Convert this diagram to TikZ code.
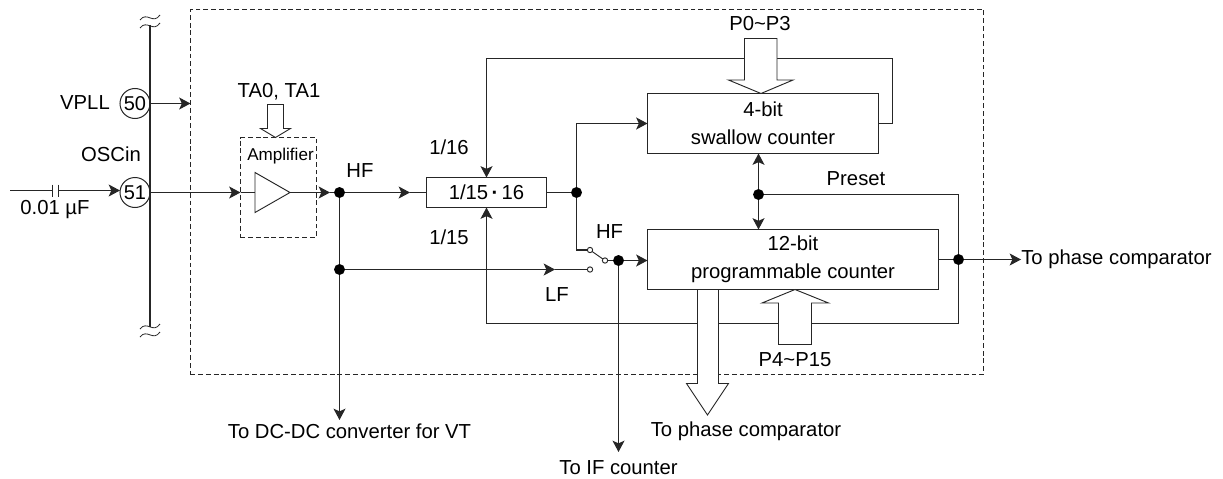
\documentclass[tikz,border=0pt]{standalone}
\usepackage{fontspec}
\setmainfont{Liberation Sans}
\usepackage{xcolor}
\usetikzlibrary{arrows.meta,calc}
\definecolor{wire}{HTML}{262626}
\tikzset{
  wirel/.style={draw=wire, line width=0.85pt},
  frame/.style={draw=wire, line width=0.7pt, dash pattern=on 3.6pt off 2.2pt},
  blockbox/.style={rectangle, draw=wire, line width=0.85pt, inner sep=0pt, outer sep=0pt, align=center},
  pin/.style={circle, draw=wire, line width=0.75pt, fill=white, minimum size=22.5pt, inner sep=0pt, outer sep=0pt, font=\fontsize{15}{17}\selectfont},
  junc/.style={circle, fill=black, minimum size=8.2pt, inner sep=0pt, outer sep=0pt},
  contact/.style={circle, draw=wire, line width=0.7pt, fill=white, minimum size=4pt, inner sep=0pt, outer sep=0pt},
  lab/.style={inner sep=0pt, font=\fontsize{15.2}{17}\selectfont},
  fat/.style={draw=wire, line width=0.7pt, fill=white, line join=miter},
  brk/.style={draw=wire, line width=0.6pt},
  >={Stealth[length=8.5pt,width=9pt,inset=2pt]},
}

\begin{document}
\begin{tikzpicture}[x=0.75pt,y=-0.75pt]
\useasboundingbox (0,0) rectangle (1223,478);
% blocks
\node[frame, draw, minimum width=594.75pt, minimum height=273.75pt, inner sep=0pt, outer sep=0pt] (chip) at (587,192) {};
\node[frame, draw, minimum width=57pt, minimum height=75pt, inner sep=0pt, outer sep=0pt] (ampbox) at (278.5,187.5) {};
\node[blockbox, minimum width=90pt, minimum height=22.5pt, font=\fontsize{15.2}{17}\selectfont] (div) at (486.5,192.5) {1/15\,{\bfseries ·}\,16};
\node[blockbox, minimum width=173.25pt, minimum height=45pt, font=\fontsize{15.2}{21}\selectfont] (swallow) at (763,123.5) {4-bit\\swallow counter};
\node[blockbox, minimum width=218.25pt, minimum height=45pt, font=\fontsize{15.2}{21}\selectfont] (prog) at (793,259.5) {12-bit\\programmable counter};
\node[pin] (pin50) at (135,103.5) {50};
\node[pin] (pin51) at (135,192.5) {51};
% junctions
\node[junc] (jamp) at (339.5,192.5) {};
\node[junc] (jlf) at (339.5,269.5) {};
\node[junc] (jdiv) at (576.5,192.5) {};
\node[junc] (jsw) at (618.5,260.5) {};
\node[junc] (jpre) at (758.5,194.5) {};
\node[junc] (jout) at (958.5,259.5) {};
\node[contact] (swhf) at (590,250) {};
\node[contact] (swlf) at (590,269.5) {};
\node[contact] (swc) at (605,260.5) {};
% free ends
\coordinate (bustop) at (150,25);
\coordinate (busbot) at (150,327);
\coordinate (capl) at (52.5,190.5);
\coordinate (capr) at (58.5,190.5);
\coordinate (inl) at (10,190.5);
\coordinate (ampi) at (255,192.5);
\coordinate (ampo) at (290,192.5);
\coordinate (tipa) at (330,192.5);
\coordinate (tipb) at (410,192.5);
\coordinate (tipc) at (555,269.5);
\coordinate (fbr) at (892.5,58.5);
\coordinate (fbl) at (486.5,58.5);
\coordinate (prer) at (958.5,323.5);
\coordinate (prel) at (486.5,323.5);
\coordinate (dcend) at (339.5,420);
\coordinate (ifend) at (618.5,452);
\coordinate (cmpend) at (1021,259.5);
% bus and input
\draw[draw=wire, line width=1.7pt] (bustop) -- (busbot);
\draw[brk] (140,20) .. controls (147,11) and (153,25) .. (160,15);
\draw[brk] (140,28) .. controls (147,19) and (153,33) .. (160,23);
\draw[brk] (140,329) .. controls (147,320) and (153,334) .. (160,324);
\draw[brk] (140,337) .. controls (147,328) and (153,342) .. (160,332);
\draw[wirel] (inl) -- (capl);
\draw[wirel, ->] (capr) -- (pin51.west |- capr);
\draw[wirel, line width=1.1pt] ($(capl)+(0,-6)$) -- ($(capl)+(0,6)$);
\draw[wirel, line width=1.1pt] ($(capr)+(0,-6)$) -- ($(capr)+(0,6)$);
\draw[wirel, ->] (pin50.east) -- (pin50 -| chip.west);
\draw[wirel, ->] (pin51.east) -- (pin51 -| ampbox.west);
\draw[wirel] (pin51 -| ampbox.west) -- (ampi);
% amplifier
\draw[wirel, line width=0.7pt, fill=white] (ampi) ++(0,-20) -- (ampo) -- (255,212.5) -- cycle;
\draw[wirel, ->] (ampo) -- (tipa);
\draw[wirel] (tipa) -- (jamp);
\draw[wirel, ->] (jamp) -- (tipb);
\draw[wirel] (tipb) -- (div.west);
\draw[wirel] (div.east) -- (jdiv);
\draw[wirel, ->] (jdiv) |- (swallow.west);
% feedback of the counters
\draw[wirel, ->] (swallow.east) -- (swallow.east -| fbr) -- (fbr) -- (fbl) -- (div.north);
\draw[wirel, ->] (jpre) -- (jpre |- swallow.south);
\draw[wirel, ->] (jpre) -- (jpre |- prog.north);
\draw[wirel] (jpre) -| (jout);
\draw[wirel] (jout) -- (prer) -- (prel);
\draw[wirel, ->] (prel) -- (div.south);
\draw[wirel] (prog.east) -- (jout);
\draw[wirel, ->] (jout) -- (cmpend);
% HF/LF switch
\draw[wirel] (jdiv) |- (swhf.west);
\draw[wirel, line width=0.7pt] (swhf) -- (swc);
\draw[wirel] (swc) -- (jsw);
\draw[wirel, ->] (jsw) -- (jsw -| prog.west);
\draw[wirel, ->] (jlf) -- (tipc);
\draw[wirel] (tipc) -- (swlf.west);
\draw[wirel] (jamp) -- (jlf);
\draw[wirel, ->] (jlf) -- (dcend);
\draw[wirel, ->] (jsw) -- (ifend);
% wide arrows
\draw[fat] (267.5,104.5) -- (283.5,104.5) -- (283.5,128.5) -- (290.5,128.5) -- (275.5,137.5) -- (260.5,128.5) -- (267.5,128.5) -- cycle;
\draw[fat] (744.5,38.5) -- (777,38.5) -- (777,80) -- (793,80) -- (761,93.5) -- (728.5,80) -- (744.5,80) -- cycle;
\draw[fat] (778.5,344.5) -- (811.5,344.5) -- (811.5,303) -- (828.5,303) -- (795,289.5) -- (762,303) -- (778.5,303) -- cycle;
\draw[fat] (697.5,289.5) -- (718.5,289.5) -- (718.5,383.5) -- (728.5,383.5) -- (707.5,415) -- (686.5,383.5) -- (697.5,383.5) -- cycle;
% labels
\node[lab] (lvpll) at (85,103) {VPLL};
\node[lab] (losc) at (111,154) {OSCin};
\node[lab] (lcap) at (55,210) {0.01 µF};
\node[lab] (lta) at (279,92) {TA0, TA1};
\node[lab, font=\fontsize{12.8}{14}\selectfont] (lamp) at (280.5,156) {Amplifier};
\node[lab] (lhfa) at (360,171) {HF};
\node[lab] (l16) at (449,147) {1/16};
\node[lab] (l15) at (449,237) {1/15};
\node[lab] (lhfb) at (609.5,232) {HF};
\node[lab] (llf) at (557,295) {LF};
\node[lab] (lp0) at (760,24) {P0\textasciitilde P3};
\node[lab] (lpre) at (856,179) {Preset};
\node[lab] (lp4) at (795,360) {P4\textasciitilde P15};
\node[lab, anchor=west] (lcmpa) at (cmpend) {To phase comparator};
\node[lab] (lcmpb) at (746,431) {To phase comparator};
\node[lab] (ldc) at (349.5,431) {To DC-DC converter for VT};
\node[lab] (lif) at (618.5,468) {To IF counter};
\end{tikzpicture}
\end{document}
